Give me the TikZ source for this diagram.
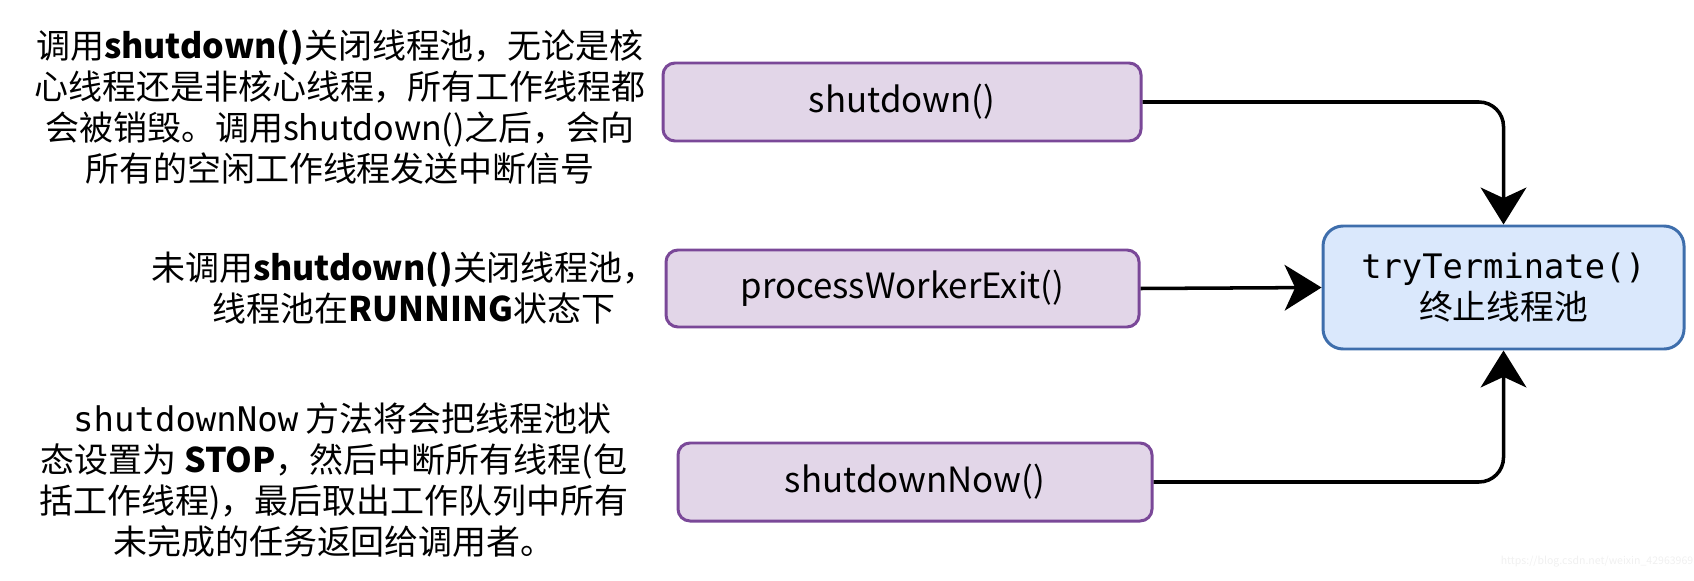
\documentclass[tikz,border=0pt]{standalone}
\usepackage{fontspec}
\usetikzlibrary{arrows.meta}
\setmainfont{Noto Sans CJK SC}
\newfontfamily\monof{DejaVu Sans Mono}
\definecolor{pfill}{RGB}{226,214,232}
\definecolor{pdraw}{RGB}{122,72,152}
\definecolor{bfill}{RGB}{218,232,252}
\definecolor{bdraw}{RGB}{62,110,172}
\tikzset{
  pbox/.style={draw=pdraw, fill=pfill, line width=0.85pt, rounded corners=3.4pt, inner sep=0pt, font=\fontsize{9.9}{11.5}\selectfont},
  bbox/.style={draw=bdraw, fill=bfill, line width=0.85pt, rounded corners=5.7pt, inner sep=0pt, align=center, font=\fontsize{9.6}{11.4}\selectfont},
  desc/.style={align=center, inner sep=0pt, font=\fontsize{9.67}{11.67}\selectfont},
  arr/.style={line width=1pt, -{Stealth[length=10.5pt, width=13pt, inset=3pt]}, rounded corners=7pt},
}
\begin{document}
\begin{tikzpicture}[x=0.1mm, y=-0.1mm]
\useasboundingbox (0,0) rectangle (1694,580);
\node[pbox, minimum width=478*0.1mm, minimum height=78*0.1mm] (sd) at (902,102) {shutdown()};
\node[pbox, minimum width=473*0.1mm, minimum height=77*0.1mm] (pwe) at (902.5,288.5) {processWorkerExit()};
\node[pbox, minimum width=474*0.1mm, minimum height=78*0.1mm] (sdn) at (915,482) {shutdownNow()};
\node[bbox, minimum width=361*0.1mm, minimum height=123*0.1mm] (tt) at (1503.5,287.5) {{\monof tryTerminate()}\\终止线程池};

\node[desc] (d1) at (340,107) {调用\textbf{shutdown()}关闭线程池，无论是核\\心线程还是非核心线程，所有工作线程都\\会被销毁。调用shutdown()之后，会向\\所有的空闲工作线程发送中断信号};
\node[desc] (d2) at (404,288) {未调用\textbf{shutdown()}关闭线程池，\\\hspace*{0.6em}线程池在\textbf{RUNNING}状态下};
\node[desc] (d3) at (334,480) {\hspace*{0.5em}{\monof shutdownNow} 方法将会把线程池状\\态设置为 \textbf{STOP}，然后中断所有线程(包\\括工作线程)，最后取出工作队列中所有\\未完成的任务返回给调用者。};

\node[text=gray!12, inner sep=0pt, font=\fontsize{3}{3.5}\selectfont] (wm) at (1597,562) {https://blog.csdn.net/weixin\_42963969};

\draw[arr] (sd.east) -| (tt.north);
\draw[arr] (pwe.east) -- (tt.west);
\draw[arr] (sdn.east) -| (tt.south);
\end{tikzpicture}
\end{document}
